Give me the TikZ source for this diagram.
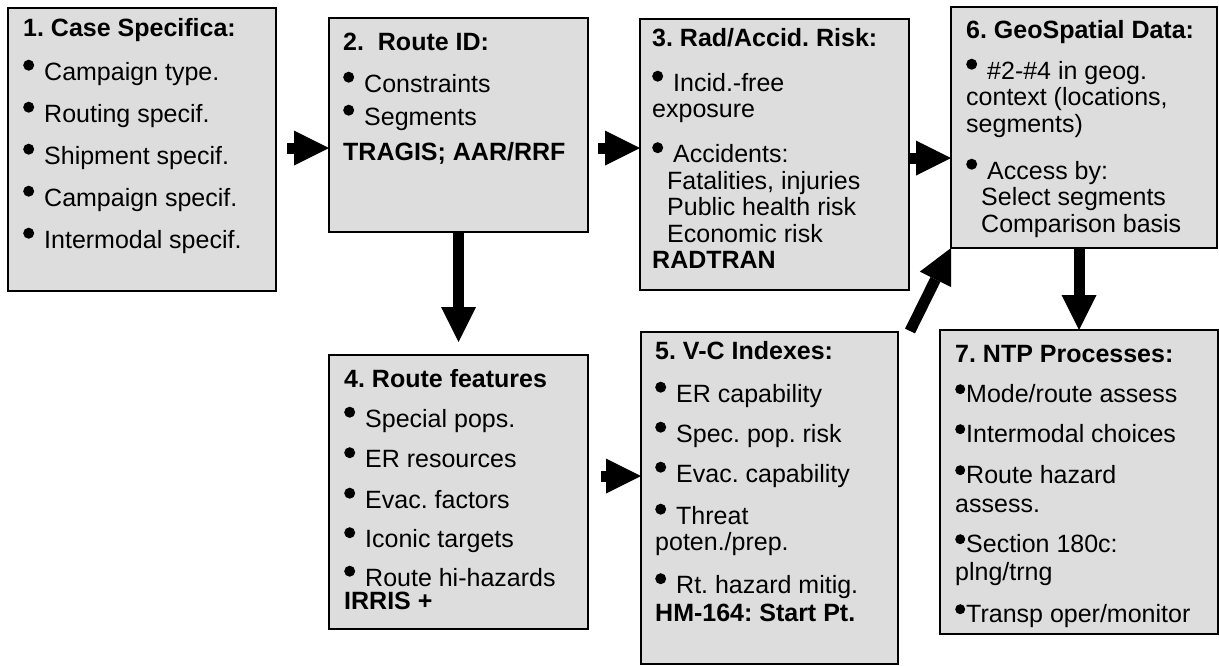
\documentclass[tikz,border=0pt]{standalone}
\usepackage{fontspec}
\setmainfont{Liberation Sans}
\usetikzlibrary{arrows.meta,calc}
\definecolor{boxfill}{RGB}{221,221,221}
\newcommand{\bul}{\smash{\tikz[baseline=-15pt]\fill (0pt,0pt) circle[radius=5.5pt];}}
\newcommand{\bulb}{\smash{\tikz[baseline=-13pt]\fill (0pt,0pt) circle[radius=5pt];}}
\newcommand{\fl}{\rule{0pt}{19pt}}
\tikzset{
  box/.style={draw=black, line width=1.3pt, fill=boxfill, anchor=north west, inner sep=0pt, outer sep=0pt},
  txt/.style={anchor=north west, inner sep=0pt, align=left, font=\fontsize{25}{26.5}\selectfont\frenchspacing},
  bigarr/.style={line width=11pt, -{Triangle[length=35pt,width=35pt,line width=0pt]}},
}
\begin{document}
\begin{tikzpicture}[x=1pt,y=-1pt]
\useasboundingbox (0,0) rectangle (1219,665);
% boxes
\node[box, minimum width=268pt, minimum height=283pt] (b1) at (8,8) {};
\node[box, minimum width=259pt, minimum height=214pt] (b2) at (329,18) {};
\node[box, minimum width=269pt, minimum height=271pt] (b3) at (640,19) {};
\node[box, minimum width=266pt, minimum height=241pt] (b6) at (951,7) {};
\node[box, minimum width=259pt, minimum height=274pt] (b4) at (329,355) {};
\node[box, minimum width=257pt, minimum height=332pt] (b5) at (641,332) {};
\node[box, minimum width=278pt, minimum height=304pt] (b7) at (940,330) {};
% texts
\node[txt] (t1) at (23,17) {\fl\textbf{1. Case Specifica:}\\[17.5pt]
\bul\hspace{10pt}Campaign type.\\[15.5pt]
\bul\hspace{10pt}Routing specif.\\[15.5pt]
\bul\hspace{10pt}Shipment specif.\\[15.5pt]
\bul\hspace{10pt}Campaign specif.\\[15.5pt]
\bul\hspace{10pt}Intermodal specif.};
\node[txt] (t2) at (343,31) {\fl\textbf{2.\ \ Route ID:}\\[15.5pt]
\bul\hspace{10pt}Constraints\\[6.5pt]
\bul\hspace{10pt}Segments\\[8.5pt]
\textbf{TRAGIS; AAR/RRF}};
\node[txt] (t3) at (652,27) {\fl\textbf{3. Rad/Accid. Risk:}\\[18.5pt]
\bul\hspace{10pt}Incid.-free\\
exposure\\[18.5pt]
\bul\hspace{10pt}Accidents:\\
\hspace{15pt}Fatalities, injuries\\
\hspace{15pt}Public health risk\\
\hspace{15pt}Economic risk\\
\textbf{RADTRAN}};
\node[txt] (t6) at (966,19) {\fl\textbf{6. GeoSpatial Data:}\\[14.5pt]
\bul\hspace{10pt}\#2-\#4 in geog.\\
context (locations,\\
segments)\\[20.5pt]
\bul\hspace{10pt}Access by:\\
\hspace{15pt}Select segments\\
\hspace{15pt}Comparison basis};
\node[txt] (t4) at (344,368) {\fl\textbf{4. Route features}\\[13.5pt]
\bul\hspace{10pt}Special pops.\\[14pt]
\bul\hspace{10pt}ER resources\\[14pt]
\bul\hspace{10pt}Evac. factors\\[13pt]
\bul\hspace{10pt}Iconic targets\\[12pt]
\bul\hspace{10pt}Route hi-hazards\\[-3.5pt]
\textbf{IRRIS +}};
\node[txt] (t5) at (655,340) {\fl\textbf{5. V-C Indexes:}\\[16.5pt]
\bul\hspace{10pt}ER capability\\[13.5pt]
\bul\hspace{10pt}Spec. pop. risk\\[13.5pt]
\bul\hspace{10pt}Evac. capability\\[15.5pt]
\bul\hspace{10pt}Threat\\
poten./prep.\\[16.5pt]
\bul\hspace{10pt}Rt. hazard mitig.\\[1.5pt]
\textbf{HM-164: Start Pt.}};
\node[txt] (t7) at (955,343) {\fl\textbf{7. NTP Processes:}\\[13.5pt]
\bulb\hspace{1pt}Mode/route assess\\[13.5pt]
\bulb\hspace{1pt}Intermodal choices\\[14.5pt]
\bulb\hspace{1pt}Route hazard\\[2.5pt]
assess.\\[13.5pt]
\bulb\hspace{1pt}Section 180c:\\[1.5pt]
plng/trng\\[15.5pt]
\bulb\hspace{1pt}Transp oper/monitor};
% arrows
\draw[bigarr] ($(b1.east)+(11,-1.5)$) -- ($(b2.west)+(0,23)$);
\draw[bigarr] ($(b2.east)+(10,23)$) -- ($(b3.west)+(0,-6.5)$);
\draw[bigarr] ($(b3.east)+(0,3.5)$) -- ($(b6.west)+(0,30.5)$);
\draw[bigarr] (b2.south) -- ($(b4.north)+(0,-13)$);
\draw[bigarr] ($(b4.east)+(13,-16)$) -- ($(b5.west)+(0,-22)$);
\draw[bigarr] ($(b5.north east)+(12,-1)$) -- (b6.south west);
\draw[bigarr] (b6.south -| b7.north) -- (b7.north);
\end{tikzpicture}
\end{document}
